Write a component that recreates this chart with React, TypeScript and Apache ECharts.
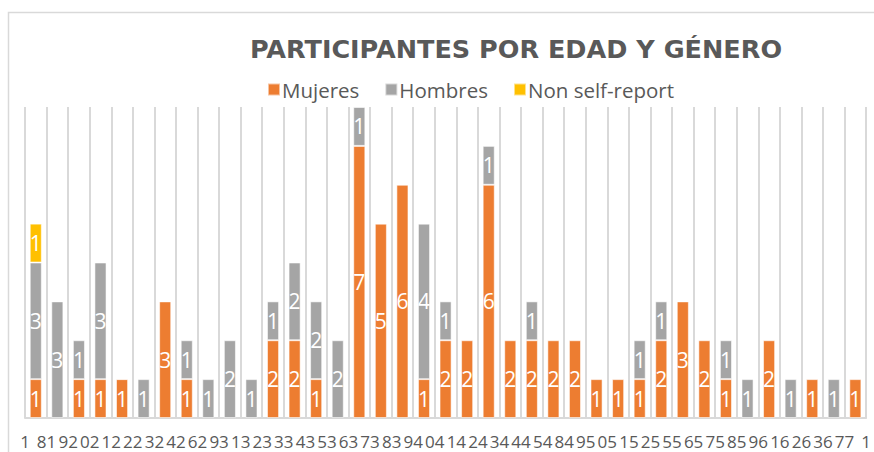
import React, { useEffect, useRef } from "react";
import * as echarts from "echarts";

const ages = [18, 19, 20, 21, 22, 23, 24, 26, 29, 31, 32, 33, 34, 35, 36, 37, 38, 39, 40, 41, 42, 43, 44, 45, 48, 49, 50, 51, 52, 55, 56, 57, 58, 59, 61, 62, 63, 67, 71];
const mujeres = [1, 0, 1, 1, 1, 0, 3, 1, 0, 0, 0, 2, 2, 1, 0, 7, 5, 6, 1, 2, 2, 6, 2, 2, 2, 2, 1, 1, 1, 2, 3, 2, 1, 0, 2, 0, 1, 0, 1];
const hombres = [3, 3, 1, 3, 0, 1, 0, 1, 1, 2, 1, 1, 2, 2, 2, 1, 0, 0, 4, 1, 0, 1, 0, 1, 0, 0, 0, 0, 1, 1, 0, 0, 1, 1, 0, 1, 0, 1, 0];
const nonSelf = [1, 0, 0, 0, 0, 0, 0, 0, 0, 0, 0, 0, 0, 0, 0, 0, 0, 0, 0, 0, 0, 0, 0, 0, 0, 0, 0, 0, 0, 0, 0, 0, 0, 0, 0, 0, 0, 0, 0];
const seriesNames = ["Mujeres", "Hombres", "Non self-report"];
const colors = ["#ED7D31", "#A5A5A5", "#FFC000"];
const title = "PARTICIPANTES POR EDAD Y GÉNERO";

// The reference prints the age labels as one continuous string split at the category boundaries
const boundaryTokens: string[] = (() => {
  const s = ages.map(String);
  const out: string[] = [s[0].slice(0, 1)];
  for (let i = 1; i < s.length; i++) out.push(s[i - 1].slice(-1) + s[i].slice(0, 1));
  out.push(s[s.length - 1].slice(-1));
  return out;
})();

export default function App() {
  const ref = useRef<HTMLDivElement>(null);
  useEffect(() => {
    if (!ref.current) return;
    const chart = echarts.init(ref.current, undefined, { renderer: "svg" });
    const mk = (name: string, data: number[], color: string) => ({
      name,
      type: "bar",
      stack: "total",
      barCategoryGap: "44%",
      data: data.map((v) => (v === 0 ? null : v)),
      itemStyle: { color, borderColor: "rgba(255,255,255,0.55)", borderWidth: 1 },
      label: {
        show: true,
        position: "inside",
        color: "#ffffff",
        fontFamily: "Open Sans",
        fontSize: 21,
      },
    });
    chart.setOption({
      animation: false,
      color: colors,
      title: {
        text: title,
        left: 511,
        top: 31,
        textAlign: "center",
        textStyle: {
          fontFamily: "DejaVu Sans",
          fontWeight: "bold",
          fontSize: 25.5,
          color: "#595959",
        },
      },
      legend: {
        data: seriesNames,
        left: 262,
        top: 74,
        icon: "rect",
        itemWidth: 12,
        itemHeight: 12,
        itemGap: 25,
        textStyle: { fontFamily: "Open Sans", fontSize: 20.5, color: "#595959", padding: [0, 0, 0, -3] },
      },
      graphic: [
        {
          type: "rect",
          shape: { x: 8.5, y: 12.5, width: 900, height: 500 },
          style: { fill: "none", stroke: "#d9d9d9", lineWidth: 1.5 },
          silent: true,
        },
      ],
      grid: { left: 25, right: 7, top: 107, bottom: 34, containLabel: false },
      xAxis: [
        {
          type: "category",
          data: ages.map(String),
          axisLine: { show: true, lineStyle: { color: "#d9d9d9", width: 2 } },
          axisTick: { show: false },
          axisLabel: { show: false },
          splitLine: { show: true, interval: 0, lineStyle: { color: "#d9d9d9", width: 2 } },
        },
        {
          type: "category",
          data: boundaryTokens,
          boundaryGap: false,
          position: "bottom",
          axisLine: { show: false },
          axisTick: { show: false },
          splitLine: { show: false },
          axisLabel: {
            interval: 0,
            margin: 15,
            fontFamily: "Open Sans",
            fontSize: 17,
            color: "#595959",
          },
        },
      ],
      yAxis: {
        type: "value",
        min: 0,
        max: 8,
        interval: 1,
        show: false,
        splitLine: { show: false },
      },
      series: [
        mk(seriesNames[0], mujeres, colors[0]),
        mk(seriesNames[1], hombres, colors[1]),
        mk(seriesNames[2], nonSelf, colors[2]),
      ],
    });
    return () => chart.dispose();
  }, []);
  return (
    <div
      ref={ref}
      style={{ position: "fixed", left: 0, top: 0, width: 874, height: 452, background: "#fff" }}
    />
  );
}
